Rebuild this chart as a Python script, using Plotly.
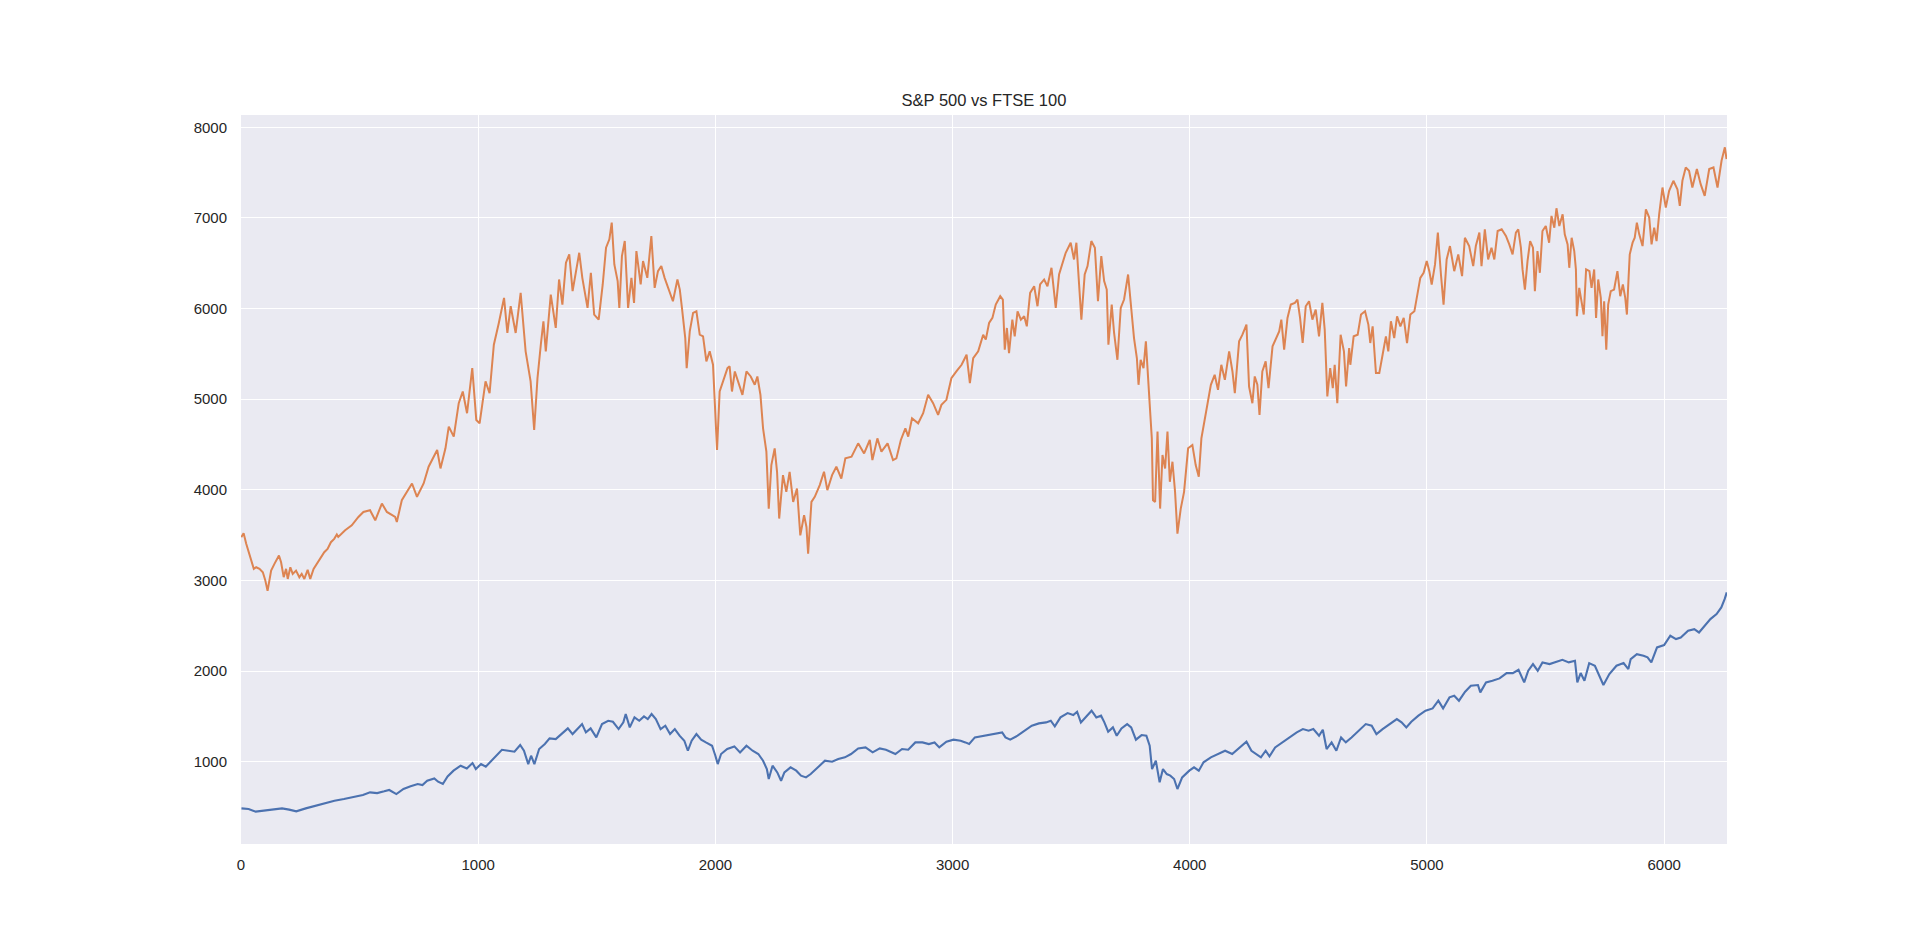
import plotly.graph_objects as go

# values (trading-day index vs close)
ftse_day = [1, 11, 22, 32, 43, 54, 64, 78, 92, 102, 112, 127, 141, 152, 160, 169, 180, 190, 197, 208,
            218, 232, 246, 256, 267, 281, 292, 306, 323, 337, 351, 365, 379, 393, 404, 410, 439, 467, 495, 516,
            544, 566, 594, 615, 650, 657, 678, 721, 742, 770, 791, 827, 841, 862, 876, 897, 918, 935, 953, 975,
            992, 1006, 1031, 1048, 1066, 1087, 1109, 1123, 1137, 1158, 1179, 1200, 1221, 1236, 1250, 1264, 1275, 1285, 1306, 1327,
            1341, 1355, 1370, 1384, 1398, 1426, 1439, 1461, 1475, 1489, 1508, 1525, 1539, 1553, 1563, 1574, 1588, 1595, 1606, 1618,
            1632, 1646, 1657, 1667, 1685, 1695, 1713, 1730, 1744, 1758, 1772, 1786, 1803, 1821, 1840, 1850, 1859, 1873, 1879, 1892,
            1906, 1920, 1934, 1948, 1962, 1976, 1990, 2000, 2007, 2018, 2032, 2051, 2060, 2070, 2082, 2100, 2114, 2131, 2149, 2166,
            2177, 2190, 2201, 2215, 2225, 2236, 2250, 2260, 2269, 2285, 2299, 2313, 2328, 2344, 2358, 2374, 2384, 2391, 2405, 2419,
            2440, 2458, 2472, 2492, 2510, 2531, 2548, 2574, 2602, 2627, 2651, 2662, 2683, 2700, 2726, 2749, 2763, 2782, 2801, 2813,
            2829, 2855, 2876, 2897, 2918, 2939, 2953, 2974, 2995, 3016, 3038, 3059, 3073, 3087, 3108, 3129, 3140, 3154, 3168, 3182,
            3201, 3212, 3220, 3229, 3238, 3252, 3262, 3274, 3288, 3302, 3313, 3327, 3344, 3358, 3369, 3386, 3400, 3417, 3425, 3435,
            3449, 3463, 3477, 3498, 3512, 3522, 3533, 3543, 3557, 3569, 3585, 3600, 3613, 3627, 3639, 3650, 3657, 3671, 3681, 3695,
            3709, 3723, 3740, 3751, 3765, 3777, 3784, 3793, 3805, 3815, 3824, 3833, 3840, 3845, 3854, 3864, 3875, 3885, 3896, 3906,
            3916, 3927, 3938, 3948, 3962, 3976, 3993, 4011, 4025, 4038, 4049, 4060, 4074, 4089, 4105, 4119, 4133, 4148, 4166, 4180,
            4190, 4208, 4222, 4239, 4250, 4264, 4274, 4285, 4294, 4306, 4320, 4332, 4349, 4363, 4377, 4386, 4398, 4412, 4426, 4443,
            4454, 4465, 4476, 4489, 4503, 4517, 4531, 4545, 4559, 4569, 4580, 4592, 4603, 4611, 4622, 4636, 4650, 4659, 4672, 4677,
            4691, 4708, 4722, 4739, 4753, 4761, 4771, 4785, 4799, 4813, 4827, 4837, 4848, 4862, 4874, 4888, 4902, 4916, 4930, 4947,
            4958, 4972, 4986, 4999, 5010, 5020, 5034, 5046, 5059, 5070, 5083, 5097, 5115, 5132, 5148, 5160, 5178, 5195, 5206, 5221,
            5230, 5244, 5258, 5272, 5284, 5298, 5315, 5333, 5347, 5361, 5375, 5385, 5396, 5403, 5413, 5424, 5435, 5447, 5455, 5466,
            5476, 5487, 5501, 5515, 5525, 5537, 5546, 5558, 5572, 5581, 5593, 5600, 5610, 5621, 5628, 5632, 5642, 5652, 5661, 5671,
            5685, 5694, 5705, 5713, 5722, 5733, 5740, 5747, 5756, 5764, 5775, 5789, 5803, 5815, 5826, 5836, 5843, 5850, 5855, 5867,
            5876, 5885, 5895, 5909, 5923, 5937, 5947, 5958, 5968, 5979, 5993, 6007, 6021, 6039, 6056, 6066, 6077, 6091, 6105, 6119,
            6138, 6154, 6171, 6190, 6208, 6225, 6242, 6256, 6263]
ftse_close = [3477, 3522, 3404, 3312, 3201, 3128, 3146, 3128, 3091, 3006, 2885, 3109, 3183, 3238, 3275, 3201, 3036, 3128, 3017, 3146,
              3073, 3109, 3036, 3073, 3017, 3117, 3017, 3128, 3201, 3257, 3312, 3349, 3422, 3459, 3507, 3480, 3554, 3609, 3701, 3756,
              3775, 3664, 3849, 3756, 3701, 3646, 3886, 4070, 3923, 4070, 4255, 4439, 4236, 4458, 4697, 4587, 4956, 5085, 4845, 5343,
              4771, 4734, 5196, 5066, 5601, 5841, 6118, 5731, 6026, 5731, 6173, 5528, 5196, 4661, 5232, 5601, 5860, 5528, 6155, 5786,
              6321, 6044, 6506, 6598, 6192, 6616, 6339, 6007, 6395, 5934, 5878, 6266, 6672, 6764, 6948, 6487, 6303, 6007, 6579, 6745,
              6007, 6339, 6063, 6635, 6266, 6524, 6339, 6801, 6229, 6413, 6469, 6339, 6210, 6081, 6321, 6210, 6007, 5675, 5343, 5749,
              5952, 5970, 5712, 5694, 5417, 5528, 5380, 4753, 4439, 5085, 5196, 5343, 5362, 5085, 5306, 5159, 5048, 5306, 5251, 5159,
              5251, 5048, 4679, 4421, 3793, 4273, 4458, 4199, 3683, 4162, 3978, 4199, 3867, 4015, 3498, 3720, 3590, 3295, 3867, 3923,
              4052, 4199, 3996, 4162, 4255, 4125, 4347, 4365, 4513, 4402, 4550, 4328, 4568, 4421, 4513, 4328, 4347, 4550, 4679, 4587,
              4790, 4734, 4845, 5048, 4956, 4827, 4937, 4993, 5232, 5306, 5380, 5491, 5177, 5454, 5528, 5712, 5657, 5841, 5897, 6044,
              6137, 6100, 5546, 5786, 5509, 5878, 5694, 5970, 5878, 5915, 5804, 6173, 6247, 6026, 6266, 6321, 6247, 6450, 6266, 6007,
              6376, 6487, 6616, 6727, 6542, 6727, 6247, 5878, 6376, 6469, 6745, 6672, 6081, 6579, 6303, 6210, 5601, 6044, 5731, 5435,
              6007, 6100, 6376, 6044, 5675, 5454, 5159, 5435, 5343, 5638, 5306, 4863, 4568, 3886, 3867, 4642, 3793, 4384, 4236, 4642,
              4089, 4310, 3978, 3517, 3793, 3978, 4458, 4494, 4273, 4144, 4568, 4734, 4919, 5159, 5269, 5103, 5380, 5214, 5528, 5306,
              5066, 5638, 5712, 5823, 5140, 4956, 5251, 5159, 4827, 5306, 5417, 5122, 5583, 5657, 5749, 5878, 5546, 5897, 6044, 6063,
              6100, 5897, 5620, 6026, 6081, 5878, 5989, 5694, 6063, 5768, 5030, 5343, 5122, 5380, 4956, 5712, 5528, 5140, 5565, 5380,
              5694, 5712, 5934, 5970, 5823, 5620, 5804, 5288, 5288, 5491, 5694, 5528, 5860, 5675, 5915, 5804, 5897, 5620, 5934, 5970,
              6118, 6339, 6395, 6524, 6413, 6266, 6487, 6838, 6376, 6044, 6542, 6690, 6413, 6598, 6358, 6782, 6690, 6469, 6690, 6838,
              6469, 6875, 6542, 6672, 6542, 6856, 6875, 6801, 6708, 6598, 6838, 6875, 6672, 6432, 6210, 6524, 6745, 6672, 6192, 6635,
              6395, 6856, 6911, 6727, 7022, 6893, 7107, 6911, 7041, 6819, 6708, 6450, 6782, 6635, 6432, 5915, 6229, 6044, 5934, 6432,
              6413, 6229, 6432, 5897, 6321, 6118, 5694, 6081, 5546, 6044, 6192, 6210, 6413, 6137, 6266, 6118, 5934, 6339, 6598, 6727,
              6782, 6948, 6819, 6690, 7096, 7004, 6708, 6893, 6745, 7041, 7336, 7114, 7299, 7410, 7317, 7133, 7410, 7557, 7520, 7336,
              7539, 7373, 7244, 7539, 7557, 7336, 7631, 7779, 7649]

spx_day = [2, 32, 62, 102, 133, 173, 203, 233, 273, 313, 353, 394, 434, 474, 514, 544, 574, 604, 625, 655,
           685, 715, 745, 765, 785, 815, 831, 851, 871, 896, 926, 952, 976, 990, 1012, 1032, 1056, 1076, 1100, 1127,
           1153, 1177, 1193, 1211, 1223, 1237, 1257, 1281, 1301, 1327, 1353, 1378, 1398, 1418, 1438, 1454, 1474, 1498, 1522, 1548,
           1568, 1592, 1612, 1622, 1639, 1659, 1679, 1699, 1715, 1731, 1749, 1769, 1789, 1809, 1829, 1849, 1869, 1884, 1900, 1920,
           1940, 1960, 1986, 2000, 2010, 2024, 2050, 2080, 2104, 2131, 2157, 2181, 2201, 2217, 2225, 2241, 2261, 2277, 2291, 2317,
           2341, 2361, 2382, 2402, 2432, 2462, 2492, 2518, 2546, 2572, 2602, 2633, 2663, 2693, 2719, 2759, 2787, 2813, 2843, 2873,
           2900, 2924, 2944, 2974, 3004, 3034, 3054, 3070, 3094, 3134, 3143, 3173, 3209, 3223, 3243, 3274, 3304, 3334, 3364, 3394,
           3414, 3431, 3455, 3485, 3509, 3525, 3541, 3565, 3586, 3606, 3626, 3640, 3656, 3676, 3692, 3712, 3736, 3753, 3773, 3797,
           3817, 3831, 3841, 3857, 3873, 3887, 3903, 3918, 3934, 3948, 3968, 3998, 4018, 4038, 4058, 4089, 4119, 4149, 4179, 4209,
           4239, 4260, 4280, 4300, 4320, 4336, 4360, 4390, 4421, 4451, 4477, 4501, 4521, 4545, 4561, 4577, 4598, 4618, 4638, 4658,
           4682, 4712, 4742, 4767, 4787, 4813, 4843, 4873, 4893, 4913, 4934, 4964, 4994, 5024, 5048, 5068, 5095, 5115, 5135, 5161,
           5185, 5215, 5225, 5249, 5276, 5306, 5336, 5362, 5386, 5410, 5427, 5447, 5467, 5487, 5517, 5547, 5571, 5598, 5624, 5634,
           5648, 5664, 5684, 5708, 5728, 5744, 5769, 5799, 5829, 5849, 5859, 5885, 5913, 5930, 5946, 5970, 6000, 6026, 6050, 6070,
           6101, 6127, 6147, 6171, 6195, 6221, 6241, 6255, 6264]
spx_close = [485, 478, 449, 460, 471, 485, 471, 452, 485, 515, 537, 570, 588, 607, 632, 662, 654, 673, 688, 643,
             699, 728, 754, 743, 790, 816, 779, 754, 838, 901, 956, 926, 985, 919, 974, 945, 1011, 1074, 1132, 1121,
             1110, 1184, 1121, 974, 1066, 974, 1140, 1195, 1257, 1250, 1305, 1368, 1305, 1360, 1415, 1324, 1368, 1268, 1415, 1452,
             1441, 1360, 1434, 1526, 1379, 1489, 1452, 1500, 1471, 1526, 1471, 1360, 1397, 1305, 1360, 1287, 1232, 1121, 1232, 1305,
             1243, 1213, 1176, 1066, 974, 1085, 1140, 1169, 1103, 1176, 1121, 1085, 1011, 919, 809, 956, 882, 790, 882, 938,
             901, 846, 827, 864, 938, 1011, 1000, 1029, 1048, 1085, 1147, 1158, 1103, 1147, 1132, 1085, 1140, 1132, 1213, 1213,
             1195, 1213, 1158, 1221, 1243, 1232, 1213, 1195, 1268, 1287, 1287, 1305, 1324, 1268, 1243, 1287, 1342, 1397, 1423, 1434,
             1452, 1390, 1489, 1537, 1515, 1552, 1434, 1508, 1563, 1489, 1508, 1434, 1331, 1379, 1287, 1368, 1415, 1379, 1243, 1294,
             1287, 1176, 919, 1011, 772, 919, 864, 846, 809, 699, 827, 901, 938, 901, 993, 1048, 1085, 1121, 1085, 1158,
             1221, 1121, 1085, 1048, 1121, 1059, 1158, 1213, 1279, 1324, 1360, 1342, 1360, 1287, 1353, 1140, 1213, 1121, 1268, 1213,
             1268, 1342, 1415, 1397, 1305, 1360, 1415, 1471, 1434, 1379, 1441, 1508, 1563, 1588, 1673, 1588, 1710, 1728, 1673, 1772,
             1838, 1846, 1765, 1875, 1893, 1919, 1978, 1978, 2015, 1875, 2004, 2077, 2004, 2096, 2077, 2103, 2125, 2096, 2114, 1875,
             1978, 1893, 2088, 2059, 1949, 1846, 1967, 2059, 2088, 2022, 2132, 2187, 2169, 2151, 2096, 2261, 2287, 2390, 2353, 2371,
             2445, 2463, 2426, 2500, 2574, 2629, 2702, 2794, 2868]

fig = go.Figure()
fig.add_trace(go.Scatter(x=spx_day, y=spx_close, mode="lines", name="S&P 500",
                         line=dict(color="#4C72B0", width=2.1)))
fig.add_trace(go.Scatter(x=ftse_day, y=ftse_close, mode="lines", name="FTSE 100",
                         line=dict(color="#DD8452", width=2.0)))

# page body adds an 8px offset, so margins are shifted by that amount
fig.update_layout(
    width=1920, height=949,
    margin=dict(l=233, r=201, t=107, b=113),
    paper_bgcolor="white",
    plot_bgcolor="#EAEAF2",
    showlegend=False,
    font=dict(family="Arial, Liberation Sans, sans-serif", size=15, color="#262626"),
    title=dict(text="S&P 500 vs FTSE 100", x=0.5, xanchor="center", xref="paper",
               y=1 - 92 / 949, yanchor="middle", yref="container",
               font=dict(size=16.5, color="#262626")),
)
fig.update_xaxes(range=[0, 6265], tickvals=[0, 1000, 2000, 3000, 4000, 5000, 6000],
                 showgrid=True, gridcolor="white", gridwidth=1.4, zeroline=False,
                 showline=False, ticks="", ticklabelstandoff=10)
fig.update_yaxes(range=[92, 8136], tickvals=[1000, 2000, 3000, 4000, 5000, 6000, 7000, 8000],
                 showgrid=True, gridcolor="white", gridwidth=1.4, zeroline=False,
                 showline=False, ticks="", ticklabelstandoff=13)

fig.write_html("out.html")
